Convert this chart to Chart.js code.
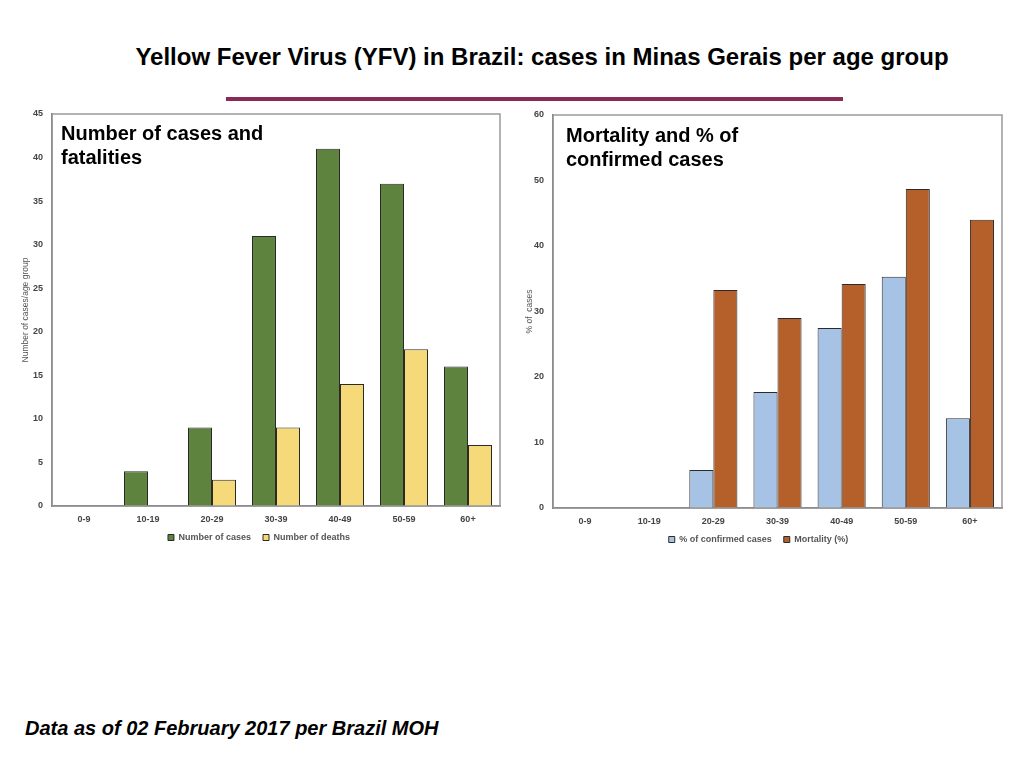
<!DOCTYPE html>
<html>
<head>
<meta charset="utf-8">
<script src="https://cdn.jsdelivr.net/npm/chart.js@4"></script>
<style>
  body { margin: 0; width: 1024px; height: 768px; background: #fff; position: relative; overflow: hidden; font-family: "Liberation Sans", Arial, sans-serif; }
  .title { position: absolute; top: 43px; left: 0; width: 1084px; text-align: center; font-size: 24px; font-weight: bold; color: #000; }
  .rule { position: absolute; left: 226px; top: 97px; width: 617px; height: 4px; background: #8a2a56; }
  .box { position: absolute; }
  .panel { position: absolute; font-size: 20px; font-weight: bold; line-height: 24px; color: #000; }
  .foot { position: absolute; left: 25px; top: 717px; font-size: 20px; font-weight: bold; font-style: italic; }
</style>
</head>
<body>
<div class="title">Yellow Fever Virus (YFV) in Brazil: cases in Minas Gerais per age group</div>
<div class="rule"></div>
<div class="box" style="left:18px; top:105px; width:492px; height:450px;"><canvas id="casesChart"></canvas></div>
<div class="box" style="left:515px; top:105px; width:497px; height:452px;"><canvas id="pctChart"></canvas></div>
<div class="panel" style="left:61px; top:121px;">Number of cases and<br>fatalities</div>
<div class="panel" style="left:566px; top:123px;">Mortality and % of<br>confirmed cases</div>
<div class="foot">Data as of 02 February 2017 per Brazil MOH</div>
<script>
const ageGroups = ['0-9', '10-19', '20-29', '30-39', '40-49', '50-59', '60+'];
const numCases = [0, 4, 9, 31, 41, 37, 16];
const numDeaths = [0, 0, 3, 9, 14, 18, 7];
const pctConfirmed = [0, 0, 5.8, 17.7, 27.5, 35.3, 13.7];
const mortality = [0, 0, 33.3, 29.0, 34.2, 48.7, 44.0];

const tickFont = { family: '"Liberation Sans", Arial, sans-serif', size: 9, weight: 'bold' };
const titleFont = { family: '"Liberation Sans", Arial, sans-serif', size: 8.5 };

// grey frame round the plot area
const frame = {
  id: 'frame',
  afterLayout(chart) {
    // x axis is kept short so the legend sits close; let its labels spill below it
    chart.scales.x.bottom += 14;
  },
  afterDraw(chart) {
    const a = chart.chartArea, c = chart.ctx;
    c.save();
    c.strokeStyle = '#9a9a9a';
    c.lineWidth = 1.5;
    c.strokeRect(a.left, a.top, a.right - a.left, a.bottom - a.top);
    c.restore();
  }
};

function makeChart(id, labelA, dataA, colorA, labelB, dataB, colorB, yMax, step, yTitle, yWidth, padTop, titlePad) {
  return new Chart(document.getElementById(id), {
    type: 'bar',
    data: {
      labels: ageGroups,
      datasets: [
        { label: labelA, data: dataA, backgroundColor: colorA, borderColor: '#2b2b2b', borderWidth: 1 },
        { label: labelB, data: dataB, backgroundColor: colorB, borderColor: '#2b2b2b', borderWidth: 1 },
      ],
    },
    options: {
      responsive: true,
      maintainAspectRatio: false,
      animation: false,
      categoryPercentage: 0.75,
      barPercentage: 1,
      layout: { padding: { top: padTop, right: 10, bottom: 3 } },
      plugins: {
        legend: {
          position: 'bottom',
          labels: { boxWidth: 6, boxHeight: 6, padding: 12, color: '#555', font: tickFont }
        },
        tooltip: { enabled: false }
      },
      scales: {
        x: {
          grid: { display: false },
          border: { color: '#666', width: 1.5 },
          ticks: { color: '#444', font: tickFont, padding: 0 },
          afterFit: s => { s.height = 15; }
        },
        y: {
          min: 0, max: yMax,
          grid: { display: false },
          border: { color: '#666', width: 1.5 },
          ticks: { stepSize: step, color: '#444', font: tickFont, padding: 1 },
          title: { display: true, text: yTitle, color: '#555', font: titleFont, padding: { top: titlePad, bottom: 0 } },
          afterFit: s => { s.width = yWidth; }
        }
      }
    },
    plugins: [frame]
  });
}

makeChart('casesChart', 'Number of cases', numCases, '#5d833e', 'Number of deaths', numDeaths, '#f6da7a',
  45, 5, 'Number of cases/age group', 34, 9, 3);
makeChart('pctChart', '% of confirmed cases', pctConfirmed, '#a6c2e4', 'Mortality (%)', mortality, '#b5602b',
  60, 10, '% of  cases', 38, 10, 10);
</script>
</body>
</html>
